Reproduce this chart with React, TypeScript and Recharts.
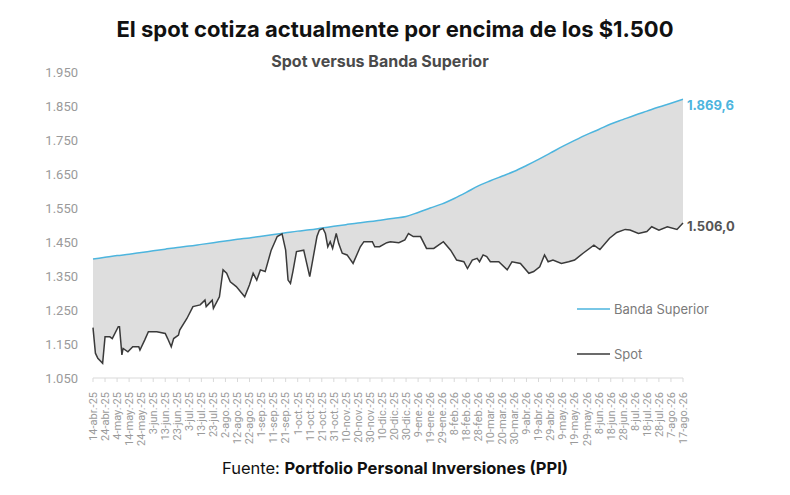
import { Area, ComposedChart, Legend, LabelList, XAxis, YAxis } from "recharts";

// x axis: one label every 10 days, 14-abr-25 .. 17-ago-26
const tickLabels = [
  "14-abr.-25", "24-abr.-25", "4-may.-25", "14-may.-25", "24-may.-25",
  "3-jun.-25", "13-jun.-25", "23-jun.-25", "3-jul.-25", "13-jul.-25",
  "23-jul.-25", "2-ago.-25", "12-ago.-25", "22-ago.-25", "1-sep.-25",
  "11-sep.-25", "21-sep.-25", "1-oct.-25", "11-oct.-25", "21-oct.-25",
  "31-oct.-25", "10-nov.-25", "20-nov.-25", "30-nov.-25", "10-dic.-25",
  "20-dic.-25", "30-dic.-25", "9-ene.-26", "19-ene.-26", "29-ene.-26",
  "8-feb.-26", "18-feb.-26", "28-feb.-26", "10-mar.-26", "20-mar.-26",
  "30-mar.-26", "9-abr.-26", "19-abr.-26", "29-abr.-26", "9-may.-26",
  "19-may.-26", "29-may.-26", "8-jun.-26", "18-jun.-26", "28-jun.-26",
  "8-jul.-26", "18-jul.-26", "28-jul.-26", "7-ago.-26", "17-ago.-26",
];
const tickDays = tickLabels.map((_, i) => i * 10);

const yTicks = [1050, 1150, 1250, 1350, 1450, 1550, 1650, 1750, 1850, 1950];

// Banda Superior (days since 14-abr-25)
const bandDays = [
  0, 10, 20, 30, 40, 50, 60, 70, 80, 90, 100, 110, 120, 130, 140, 150, 160,
  170, 180, 190, 200, 210, 220, 230, 240, 250, 260, 270, 280, 290, 300, 310,
  320, 330, 340, 350, 360, 370, 380, 390, 400, 410, 420, 430, 440, 450, 460,
  470, 480, 490,
];
const bandValues = [
  1400, 1405, 1410, 1414, 1419, 1424, 1429, 1434, 1438, 1443, 1448, 1453,
  1458, 1462, 1467, 1472, 1477, 1482, 1486, 1491, 1496, 1501, 1506, 1510,
  1515, 1520, 1525, 1537, 1550, 1562, 1578, 1596, 1615, 1630, 1644, 1658,
  1675, 1693, 1712, 1731, 1749, 1766, 1781, 1797, 1810, 1823, 1835, 1847,
  1858, 1869.6,
];

// Spot
const spotDays = [
  0, 2, 4, 8, 10, 14, 16, 21, 22, 24, 25, 29, 33, 38, 39, 43, 46, 53, 60, 62,
  65, 67, 71, 72, 78, 83, 89, 93, 94, 99, 100, 105, 108, 111, 114, 119, 126,
  130, 133, 136, 139, 143, 148, 153, 157, 160, 162, 164, 166, 169, 175, 180,
  183, 186, 188, 191, 193, 195, 197, 199, 202, 204, 207, 211, 216, 222, 225,
  232, 234, 238, 244, 247, 254, 259, 262, 266, 272, 277, 283, 291, 297, 302,
  308, 311, 315, 319, 321, 324, 327, 330, 337, 344, 348, 355, 362, 366, 371,
  375, 378, 382, 389, 395, 400, 407, 416, 421, 429, 435, 442, 446, 453, 460,
  464, 470, 477, 485, 490,
];
const spotValues = [
  1198, 1123, 1108, 1093, 1171, 1171, 1166, 1201, 1201, 1118, 1137, 1127,
  1142, 1142, 1132, 1162, 1186, 1186, 1181, 1166, 1142, 1166, 1176, 1191,
  1225, 1260, 1265, 1279, 1260, 1279, 1255, 1289, 1368, 1358, 1333, 1319,
  1289, 1324, 1358, 1338, 1368, 1363, 1426, 1466, 1474, 1426, 1338, 1328,
  1363, 1422, 1426, 1348, 1407, 1466, 1485, 1490, 1475, 1436, 1451, 1431,
  1475, 1446, 1417, 1412, 1387, 1436, 1451, 1451, 1436, 1436, 1448, 1451,
  1448, 1456, 1475, 1466, 1466, 1431, 1431, 1451, 1426, 1397, 1392, 1372,
  1397, 1402, 1392, 1412, 1407, 1392, 1392, 1368, 1392, 1387, 1358, 1363,
  1377, 1412, 1392, 1397, 1387, 1392, 1397, 1417, 1441, 1428, 1461, 1478,
  1487, 1485, 1475, 1481, 1495, 1485, 1495, 1487, 1506,
];

const bandData = bandDays.map((day, i) => ({ day, band: bandValues[i] }));
const spotData = spotDays.map((day, i) => ({ day, spot: spotValues[i] }));

const BLUE = "#4db5de";
const DARK = "#3a3a3a";
const FONT = "Roboto, 'Liberation Sans', sans-serif";
const TITLE_FONT = "Inter, Roboto, sans-serif";

const fmtThousands = (v: number) => v.toLocaleString("de-DE");
const fmtEnd = (v: number) =>
  v.toLocaleString("de-DE", { minimumFractionDigits: 1, maximumFractionDigits: 1 });

function DateTick({ x, y, payload }: any) {
  return (
    <text
      x={x}
      y={y + 8}
      dy="0.35em"
      transform={`rotate(-90, ${x}, ${y + 8})`}
      textAnchor="end"
      fill="#9a9a9a"
      fontSize={11}
      fontFamily={FONT}
    >
      {tickLabels[Math.round(payload.value / 10)]}
    </text>
  );
}

function endLabel(color: string, last: number, dy: number) {
  return (props: any) => {
    if (props.index !== last) return null;
    return (
      <text
        x={props.x + 4}
        y={props.y + dy}
        dy="0.35em"
        fill={color}
        fontSize={13}
        fontWeight={700}
        fontFamily={TITLE_FONT}
      >
        {fmtEnd(props.value)}
      </text>
    );
  };
}

function LegendBox() {
  const rows = [
    { name: "Banda Superior", color: BLUE },
    { name: "Spot", color: DARK },
  ];
  return (
    <div style={{ fontFamily: TITLE_FONT }}>
      {rows.map((r) => (
        <div key={r.name} style={{ display: "flex", alignItems: "center", height: 18, marginBottom: 27 }}>
          <svg width={34} height={4}>
            <line x1={0} y1={2} x2={33} y2={2} stroke={r.color} strokeWidth={1.5} />
          </svg>
          <span style={{ fontSize: 13, color: "#7a7a7a", marginLeft: 3 }}>{r.name}</span>
        </div>
      ))}
    </div>
  );
}

export default function App() {
  return (
    <div style={{ position: "absolute", left: 0, top: 0, width: 790, height: 495, background: "#fff", fontFamily: TITLE_FONT }}>
      <div style={{ position: "absolute", top: 16, width: 790, textAlign: "center", fontSize: 22, fontWeight: 700, color: "#111" }}>
        El spot cotiza actualmente por encima de los $1.500
      </div>
      <div style={{ position: "absolute", top: 51, left: -15, width: 790, textAlign: "center", fontSize: 16, fontWeight: 700, color: "#4a4a4a" }}>
        Spot versus Banda Superior
      </div>
      <ComposedChart
        width={790}
        height={495}
        margin={{ top: 72, right: 107, bottom: 87, left: 33 }}
      >
        <XAxis
          type="number"
          dataKey="day"
          domain={[0, 490]}
          ticks={tickDays}
          interval={0}
          height={30}
          tick={<DateTick />}
          tickSize={4}
          axisLine={{ stroke: "#d9d9d9" }}
          tickLine={{ stroke: "#d9d9d9" }}
          allowDuplicatedCategory={false}
        />
        <YAxis
          type="number"
          domain={[1050, 1950]}
          ticks={yTicks}
          interval={0}
          width={60}
          axisLine={false}
          tickLine={false}
          tickSize={0}
          tickMargin={15}
          tickFormatter={fmtThousands}
          tick={{ fill: "#9a9a9a", fontSize: 13, fontFamily: FONT }}
        />
        <Area
          data={bandData}
          dataKey="band"
          name="Banda Superior"
          type="monotone"
          stroke={BLUE}
          strokeWidth={1.5}
          fill="#dedede"
          fillOpacity={1}
          baseValue={1050}
          dot={false}
          activeDot={false}
          isAnimationActive={false}
        >
          <LabelList dataKey="band" content={endLabel(BLUE, bandData.length - 1, 6)} />
        </Area>
        <Area
          data={spotData}
          dataKey="spot"
          name="Spot"
          type="linear"
          stroke={DARK}
          strokeWidth={1.5}
          fill="#ffffff"
          fillOpacity={1}
          baseValue={1050}
          dot={false}
          activeDot={false}
          isAnimationActive={false}
        >
          <LabelList dataKey="spot" content={endLabel("#555", spotData.length - 1, 3)} />
        </Area>
        <Legend
          layout="vertical"
          align="center"
          verticalAlign="middle"
          content={<LegendBox />}
          wrapperStyle={{ position: "absolute", left: 577, top: 300, width: 200 }}
        />
      </ComposedChart>
      <div style={{ position: "absolute", top: 458, width: 790, textAlign: "center", fontSize: 16.5, color: "#111" }}>
        Fuente: <b>Portfolio Personal Inversiones (PPI)</b>
      </div>
    </div>
  );
}
